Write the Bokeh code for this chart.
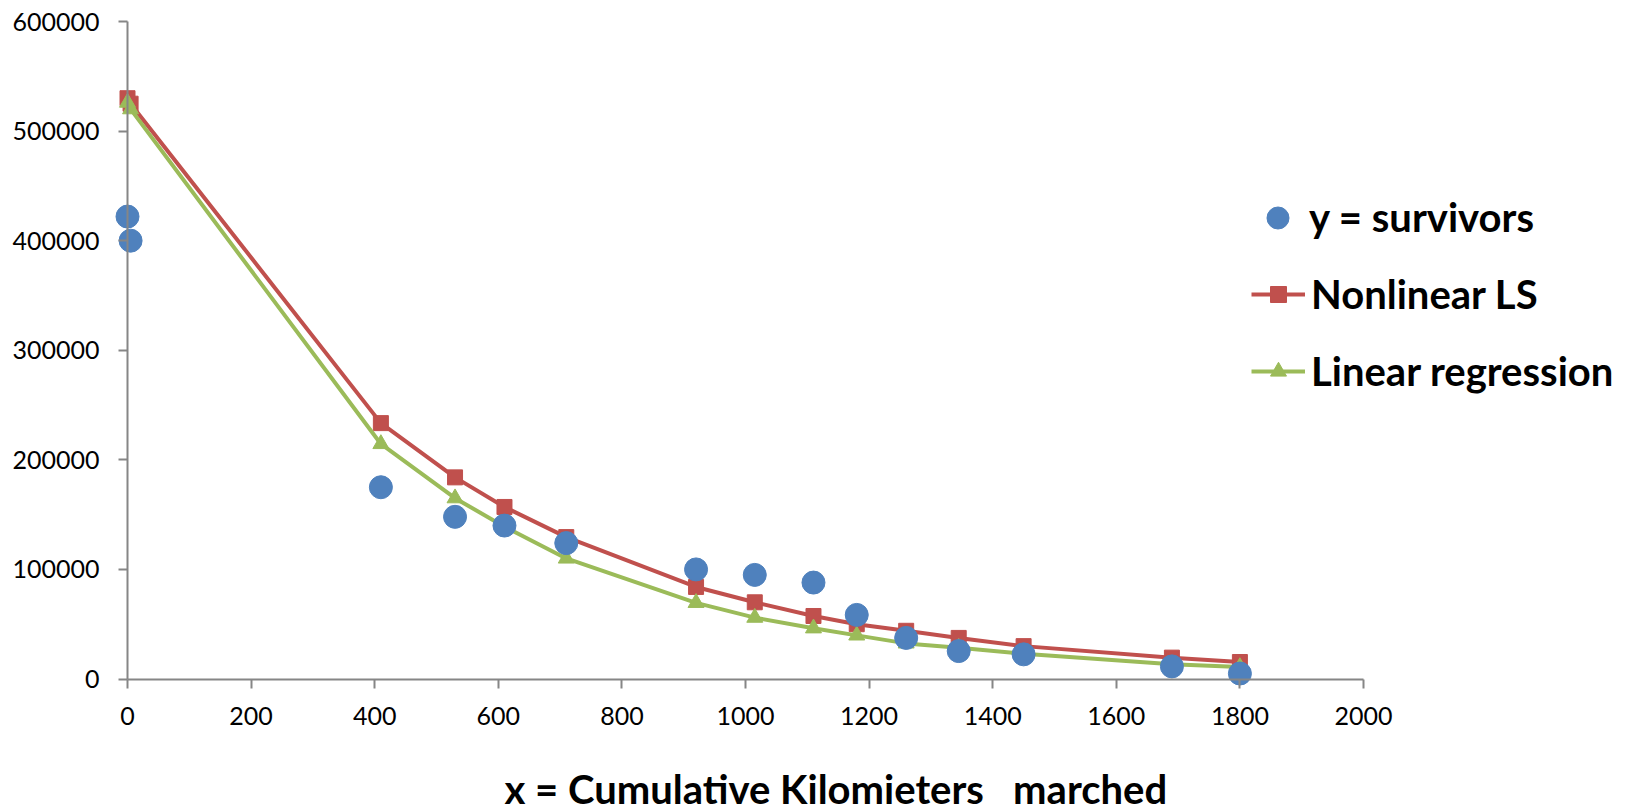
from bokeh.plotting import figure
from bokeh.models import (Range1d, Legend, LegendItem, Label, BasicTickFormatter,
                          FixedTicker)
from bokeh.embed import file_html
from bokeh.resources import INLINE

# ---- data ----
x_km = [0, 5, 410, 530, 610, 710, 920, 1015, 1110, 1180, 1260, 1345, 1450, 1690, 1800]
survivors = [422000, 400000, 175000, 148000, 140000, 124000, 100000, 95000, 88000,
             58500, 37500, 25500, 22500, 11500, 5000]
nonlinear_ls = [530000, 525000, 233500, 184000, 157000, 129500, 84000, 70000, 57500,
                50000, 44000, 37500, 30000, 19500, 15500]
linear_reg = [526000, 520000, 214500, 165000, 139000, 110000, 69500, 56000, 46300,
              39800, 32500, 28500, 23000, 13500, 11000]
x_ticks = [0, 200, 400, 600, 800, 1000, 1200, 1400, 1600, 1800, 2000]
y_ticks = [0, 100000, 200000, 300000, 400000, 500000, 600000]

labels = ["y = survivors", "Nonlinear LS", "Linear regression"]
x_title = "x = Cumulative Kilomieters\u00a0\u00a0\u00a0marched"

BLUE = "#4F81BD"
RED = "#C0504D"
GREEN = "#9BBB59"
AXIS = "#868686"

# Layout: the plotting frame covers the whole page so that nothing (legend, tick
# labels, axis title) is clipped; axes sit at x=0 / y=0 and are bounded to the data area.
W, H = 1633, 812
X0_PX, Y_TOP_PX = 127, 21     # page position of x=0 and of y=600000
AXIS_X_PX = 1236              # pixel length of x 0..2000
AXIS_Y_PX = 657.5             # pixel length of y 0..600000
sx = AXIS_X_PX / 2000
sy = AXIS_Y_PX / 600000
x_start = -X0_PX / sx
x_end = (W - X0_PX) / sx
y_end = 600000 + Y_TOP_PX / sy
y_start = -(H - Y_TOP_PX - AXIS_Y_PX) / sy
BOTTOM_GAP = H - Y_TOP_PX - AXIS_Y_PX   # pixels between y=0 and the page bottom

p = figure(width=W, height=H, output_backend="svg", toolbar_location=None,
           x_range=Range1d(x_start, x_end), y_range=Range1d(y_start, y_end),
           min_border_left=0, min_border_right=0, min_border_top=0,
           min_border_bottom=0)
p.grid.visible = False
p.outline_line_color = None
p.background_fill_color = "white"
p.border_fill_color = "white"

for ax in (p.xaxis[0], p.yaxis[0]):
    ax.axis_line_color = AXIS
    ax.axis_line_width = 2
    ax.major_tick_line_color = AXIS
    ax.major_tick_line_width = 2
    ax.major_tick_in = 0
    ax.major_tick_out = 9
    ax.minor_tick_line_color = None
    ax.major_label_text_font = "Lato"
    ax.major_label_text_font_size = "25px"
    ax.major_label_text_color = "#000000"
    ax.fixed_location = 0

p.xaxis.ticker = FixedTicker(ticks=x_ticks)
p.xaxis.bounds = (0, 2000)
p.yaxis.ticker = FixedTicker(ticks=y_ticks)
p.yaxis.bounds = (0, 600000)
p.yaxis.formatter = BasicTickFormatter(use_scientific=False)
p.xaxis.major_label_standoff = 19
p.yaxis.major_label_standoff = 19

red_line = p.line(x_km, nonlinear_ls, line_color=RED, line_width=4, line_join="round")
red_sc = p.scatter(x_km, nonlinear_ls, marker="square", size=15, fill_color=RED, line_color=RED)
green_line = p.line(x_km, linear_reg, line_color=GREEN, line_width=4, line_join="round")
green_sc = p.scatter(x_km, linear_reg, marker="triangle", size=16, fill_color=GREEN, line_color=GREEN)
blue_sc = p.scatter(x_km, survivors, marker="circle", size=23, fill_color=BLUE, line_color=BLUE)

common = dict(border_line_color=None, background_fill_alpha=0, padding=0, margin=0,
              label_text_font="Lato", label_text_font_style="bold",
              label_text_font_size="40px", label_text_color="#000000")

leg1 = Legend(items=[LegendItem(label=labels[0], renderers=[blue_sc])],
              location=(1250, 434 + BOTTOM_GAP), glyph_width=55, glyph_height=55,
              label_standoff=4, **common)
leg2 = Legend(items=[LegendItem(label=labels[1], renderers=[red_line, red_sc]),
                     LegendItem(label=labels[2], renderers=[green_line, green_sc])],
              location=(1251, 284 + BOTTOM_GAP), glyph_width=54, glyph_height=40,
              label_height=40, spacing=29, label_standoff=6, **common)
p.add_layout(leg1, "center")
p.add_layout(leg2, "center")

title = Label(text=x_title, x=504, y=24, x_units="screen", y_units="screen",
              text_align="left", text_baseline="alphabetic", text_font="Lato",
              text_font_style="bold", text_font_size="40px", text_color="#000000")
p.add_layout(title)

open("out.html", "w").write(file_html(p, INLINE))
